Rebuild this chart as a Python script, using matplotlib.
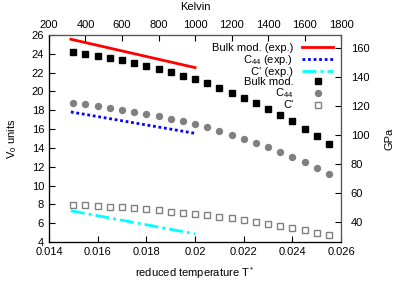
import matplotlib
matplotlib.use('Agg')
import matplotlib.pyplot as plt
import numpy as np

plt.rcParams['font.family'] = ['Liberation Sans', 'DejaVu Sans']
plt.rcParams['font.size'] = 8
plt.rcParams['mathtext.fontset'] = 'custom'
plt.rcParams['mathtext.rm'] = 'Liberation Sans'
plt.rcParams['mathtext.it'] = 'Liberation Sans'

# reduced temperature of the simulated points
t_sim = [0.0150, 0.0155, 0.0160, 0.0165, 0.0170, 0.0175, 0.0180, 0.0185, 0.0190, 0.0195, 0.0200,
         0.0205, 0.0210, 0.0215, 0.0220, 0.0225, 0.0230, 0.0235, 0.0240, 0.0245, 0.0250, 0.0255]
bulk_sim = [24.16, 23.98, 23.80, 23.59, 23.34, 23.02, 22.74, 22.42, 22.07, 21.66, 21.29,
            20.87, 20.37, 19.87, 19.34, 18.78, 18.10, 17.48, 16.90, 16.06, 15.28, 14.42]
c44_sim = [18.81, 18.63, 18.42, 18.24, 18.03, 17.85, 17.60, 17.39, 17.11, 16.86, 16.51,
           16.19, 15.80, 15.41, 14.98, 14.49, 14.10, 13.60, 13.04, 12.47, 11.87, 11.20]
cp_sim = [7.97, 7.90, 7.83, 7.76, 7.69, 7.62, 7.48, 7.37, 7.22, 7.12, 6.98,
          6.84, 6.69, 6.52, 6.34, 6.16, 5.95, 5.73, 5.52, 5.28, 4.99, 4.75]

# experimental curves
t_exp = [0.0149, 0.0200]
bulk_exp = [25.54, 22.53]
c44_exp = [17.82, 15.55]
cp_exp = [7.33, 4.88]

fig = plt.figure(figsize=(4.15, 2.91), dpi=100)
ax = fig.add_axes([0.118, 0.168, 0.704, 0.712])

l1, = ax.plot(t_exp, bulk_exp, color='red', lw=2, label='Bulk mod. (exp.)')
l2, = ax.plot(t_exp, c44_exp, color='blue', lw=2, ls=(0, (1, 1)), label='C$_{44}$ (exp.)')
l3, = ax.plot(t_exp, cp_exp, color='cyan', lw=2, ls=(0, (5, 1.5, 1, 1.5)), label="C' (exp.)")
l4, = ax.plot(t_sim, bulk_sim, 's', color='black', ms=4, label='Bulk mod.')
l5, = ax.plot(t_sim, c44_sim, 'o', color='gray', ms=4.3, mec='gray', label='C$_{44}$')
l6, = ax.plot(t_sim, cp_sim, 's', mfc='white', mec='gray', mew=1, ms=4, label="C'")

ax.set_xlim(0.014, 0.026)
ax.set_ylim(4, 26)
ax.set_xticks(np.arange(0.014, 0.0261, 0.002))
ax.set_xticklabels(['0.014', '0.016', '0.018', '0.02', '0.022', '0.024', '0.026'])
ax.set_yticks(np.arange(4, 27, 2))
ax.set_xlabel('reduced temperature T$^*$', labelpad=6)
ax.set_ylabel('V$_0$ units', labelpad=9)
ax.tick_params(direction='in', length=4, top=False, right=False)

ax2 = ax.twinx()
ax2.set_ylim(25.9, 169.2)
ax2.set_yticks(np.arange(40, 161, 20))
ax2.set_ylabel('GPa', labelpad=11)
ax2.tick_params(direction='in', length=4, pad=7)

ax3 = ax.twiny()
ax3.set_xlim(200, 1800)
ax3.set_xticks(np.arange(200, 1801, 200))
ax3.set_xlabel('Kelvin', labelpad=7)
ax3.tick_params(direction='in', length=4)

for a in (ax, ax2, ax3):
    a.spines['top'].set_color('#555555')
    a.spines['right'].set_color('#555555')

ax3.legend(handles=[l1, l2, l3, l4, l5, l6], loc='upper right', frameon=False,
           markerfirst=False, handlelength=2.8, labelspacing=0.0, borderaxespad=0.4,
           handletextpad=0.8, borderpad=0.3, fontsize=8)

fig.savefig('out.png', dpi=100)
